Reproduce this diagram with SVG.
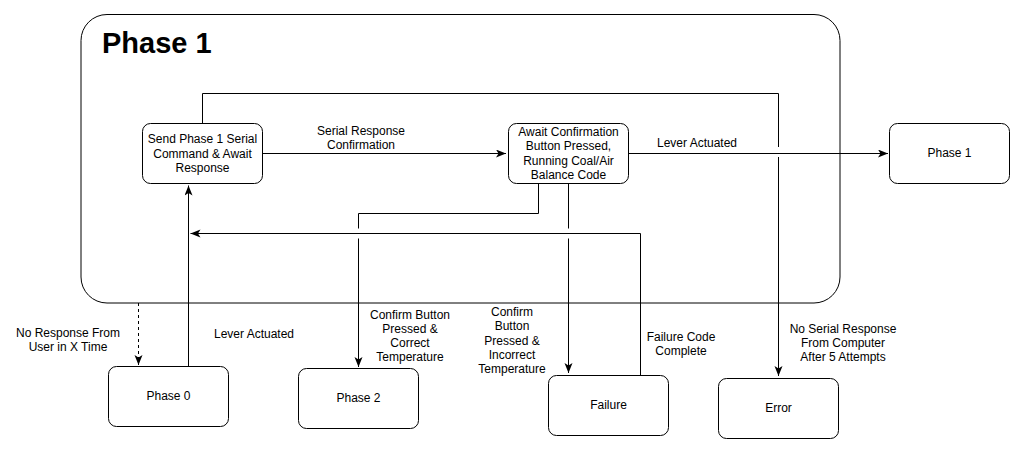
<svg xmlns="http://www.w3.org/2000/svg" width="1026" height="449" viewBox="0 0 1026 449">
<style>
  .box{fill:#fff;stroke:#000;stroke-width:1}
  .t{font-family:"Liberation Sans",Arial,sans-serif;font-size:12px;fill:#000;text-anchor:middle}
  .title{font-family:"Liberation Sans",Arial,sans-serif;font-size:29px;font-weight:bold;fill:#000}
  .e{fill:none;stroke:#000;stroke-width:1}
  .d{stroke-dasharray:3,3}
</style>
<defs>
  <marker id="arr" markerUnits="userSpaceOnUse" markerWidth="11" markerHeight="9" refX="10" refY="4" orient="auto">
    <path d="M0,0 L10,4 L0,8 L2.5,4 Z" fill="#000"/>
  </marker>
</defs>
<rect width="1026" height="449" fill="#fff"/>
<g id="container">
  <rect x="81" y="14.5" width="759" height="288.5" rx="26" ry="26" class="box"/>
  <text x="102" y="52.5" class="title">Phase 1</text>
</g>
<g id="connectors">
  <path class="e" d="M263,153.5 H506" marker-end="url(#arr)"/>
  <path class="e" d="M629,153.5 H888" marker-end="url(#arr)"/>
  <path class="e" d="M202.5,123 V93.5 H778.5 V147"/>
  <path class="e" d="M778.5,157 V376" marker-end="url(#arr)"/>
  <path class="e" d="M188.5,367 V185.5" marker-end="url(#arr)"/>
  <path class="e d" d="M138.5,303 V365" marker-end="url(#arr)"/>
  <path class="e" d="M538.5,183 V213.5 H358.5 V228.5"/>
  <path class="e" d="M358.5,238.5 V367" marker-end="url(#arr)"/>
  <path class="e" d="M568.5,183 V228.5"/>
  <path class="e" d="M568.5,238.5 V373" marker-end="url(#arr)"/>
  <path class="e" d="M640.5,375 V233.5 H190.5" marker-end="url(#arr)"/>
  <text x="361" y="135" class="t">Serial Response</text>
  <text x="361" y="149" class="t">Confirmation</text>
  <text x="697" y="147" class="t">Lever Actuated</text>
  <text x="68" y="337" class="t">No Response From</text>
  <text x="68" y="351" class="t">User in X Time</text>
  <text x="254" y="338" class="t">Lever Actuated</text>
  <text x="410" y="319" class="t">Confirm Button</text>
  <text x="410" y="333" class="t">Pressed &amp;</text>
  <text x="410" y="347" class="t">Correct</text>
  <text x="410" y="361" class="t">Temperature</text>
  <text x="512" y="316" class="t">Confirm</text>
  <text x="512" y="330" class="t">Button</text>
  <text x="512" y="344.5" class="t">Pressed &amp;</text>
  <text x="512" y="358.5" class="t">Incorrect</text>
  <text x="512" y="373" class="t">Temperature</text>
  <text x="681" y="341" class="t">Failure Code</text>
  <text x="681" y="355" class="t">Complete</text>
  <text x="843" y="333" class="t">No Serial Response</text>
  <text x="843" y="347" class="t">From Computer</text>
  <text x="843" y="361" class="t">After 5 Attempts</text>
</g>
<g id="send">
  <rect x="142.5" y="123.5" width="120" height="60" rx="8" class="box"/>
  <text x="202.5" y="143" class="t">Send Phase 1 Serial</text>
  <text x="202.5" y="157.5" class="t">Command &amp; Await</text>
  <text x="202.5" y="171.5" class="t">Response</text>
</g>
<g id="await">
  <rect x="508.5" y="123.5" width="120" height="60" rx="8" class="box"/>
  <text x="568.5" y="136" class="t">Await Confirmation</text>
  <text x="568.5" y="150" class="t">Button Pressed,</text>
  <text x="568.5" y="164.5" class="t">Running Coal/Air</text>
  <text x="568.5" y="178.5" class="t">Balance Code</text>
</g>
<g id="phase1">
  <rect x="889.5" y="123.5" width="120" height="60" rx="8" class="box"/>
  <text x="949.5" y="157" class="t">Phase 1</text>
</g>
<g id="phase0">
  <rect x="108.5" y="366.5" width="120" height="60" rx="8" class="box"/>
  <text x="168.5" y="400" class="t">Phase 0</text>
</g>
<g id="phase2">
  <rect x="298.5" y="368.5" width="120" height="60" rx="8" class="box"/>
  <text x="358.5" y="402" class="t">Phase 2</text>
</g>
<g id="failure">
  <rect x="548.5" y="375.5" width="120" height="60" rx="8" class="box"/>
  <text x="608.5" y="408.5" class="t">Failure</text>
</g>
<g id="error">
  <rect x="718.5" y="378.5" width="120" height="60" rx="8" class="box"/>
  <text x="778.5" y="411.5" class="t">Error</text>
</g>
</svg>
